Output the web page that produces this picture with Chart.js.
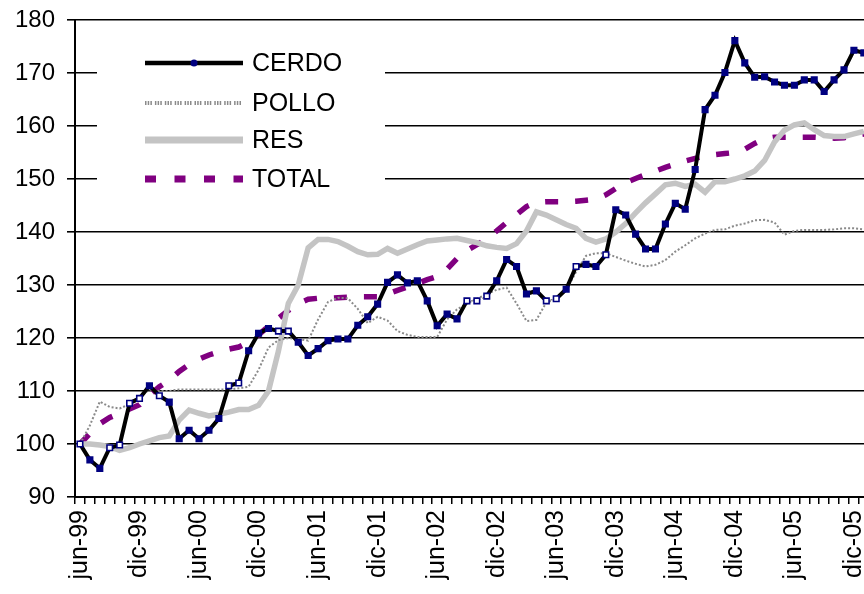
<!DOCTYPE html>
<html>
<head>
<meta charset="utf-8">
<script src="https://cdn.jsdelivr.net/npm/chart.js@4.4.1/dist/chart.umd.min.js"></script>
<style>
  html, body { margin: 0; padding: 0; background: #fff; overflow: hidden; }
  #wrap { width: 900px; height: 594px; }
</style>
</head>
<body>
<div id="wrap"><canvas id="myChart"></canvas></div>
<script>
// indices 1999..2006, monthly from jun-99
const monthNames = ['ene', 'feb', 'mar', 'abr', 'may', 'jun', 'jul', 'ago', 'sep', 'oct', 'nov', 'dic'];
const firstMonth = 5;   // jun
const firstYear = 1999;

const cerdo = [100.0, 97.0, 95.4, 99.3, 99.8, 107.7, 108.6, 111.0, 109.1, 107.9,
    101.0, 102.6, 101.0, 102.6, 104.8, 111.0, 111.5, 117.6, 120.9, 121.8,
    121.3, 121.3, 119.2, 116.7, 118.0, 119.5, 119.8, 119.8, 122.4, 124.0,
    126.4, 130.5, 131.9, 130.4, 130.8, 127.0, 122.3, 124.5, 123.6, 127.0,
    127.0, 127.9, 130.8, 134.8, 133.5, 128.3, 128.9, 127.0, 127.4, 129.2,
    133.5, 133.9, 133.5, 135.7, 144.2, 143.2, 139.6, 136.8, 136.8, 141.5,
    145.4, 144.3, 151.8, 163.1, 165.8, 170.1, 176.1, 171.9, 169.2, 169.3,
    168.3, 167.7, 167.7, 168.7, 168.7, 166.5, 168.7, 170.6, 174.3, 173.8];

const pollo = [100, 103.5, 108, 107, 106.7, 107.5, 108.8, 110.3, 110, 110,
    110.3, 110.3, 110.3, 110.3, 110.3, 110.3, 110.5, 110.8, 114, 118.2,
    119.6, 120, 119.8, 119.5, 123.5, 126.8, 127.6, 127.5, 125.5, 122.8,
    124, 123.3, 121.3, 120.6, 120.2, 120.2, 120.2, 123.5, 125.4, 126.5,
    127.4, 128.3, 129.1, 129.5, 126.5, 123.2, 123.4, 126.7, 127.3, 129,
    132.5, 135.5, 136, 136, 135.3, 134.6, 134, 133.5, 133.8, 134.7,
    136.3, 137.5, 138.8, 139.7, 140.4, 140.5, 141.2, 141.6, 142.2, 142.3,
    141.8, 139.5, 140.2, 140.4, 140.4, 140.4, 140.5, 140.7, 140.7, 140.5];

const res = [100, 100, 99.8, 99.5, 98.8, 99.3, 100, 100.6, 101.2, 101.5,
    104.5, 106.4, 105.8, 105.3, 105.6, 106, 106.5, 106.5, 107.3, 110,
    117.5, 126.5, 130, 137, 138.6, 138.6, 138.2, 137.3, 136.3, 135.7,
    135.8, 136.9, 136, 136.8, 137.6, 138.3, 138.5, 138.7, 138.8, 138.4,
    138, 137.4, 137.1, 136.9, 137.8, 140.2, 143.8, 143.2, 142.3, 141.4,
    140.7, 138.8, 138.1, 138.7, 140, 141.6, 143.6, 145.5, 147.2, 148.9,
    149.2, 148.6, 149, 147.5, 149.5, 149.5, 150, 150.6, 151.5, 153.5,
    157, 159.2, 160.2, 160.6, 159.3, 158.2, 158, 158, 158.5, 159];

const total = [100, 102, 103.8, 105, 105.8, 106.6, 107.4, 109.2, 110.8, 112,
    113.7, 115, 116, 116.8, 117.4, 117.9, 118.3, 119.2, 120.6, 122.2,
    123.7, 125.2, 126.5, 127.3, 127.5, 127.5, 127.6, 127.7, 127.8, 127.8,
    127.8, 128.3, 129, 129.6, 130.3, 131, 131.6, 133, 135, 136.5,
    137.6, 138.7, 140.2, 141.8, 143.3, 144.8, 145.6, 145.7, 145.7, 145.7,
    145.8, 146, 146.2, 147, 148.2, 149.3, 150.1, 150.8, 151.5, 152.2,
    152.8, 153.4, 153.9, 154.3, 154.6, 154.8, 155, 155.6, 156.7, 157.6,
    157.9, 157.9, 157.9, 157.9, 157.9, 157.8, 157.7, 157.8, 158.2, 158.5];

const yTicks = [90, 100, 110, 120, 130, 140, 150, 160, 170, 180];

// hollow markers / faint segments on the CERDO line (as in the scanned original)
const hollowPoints = [0, 3, 4, 5, 6, 8, 15, 16, 20, 21, 39, 40, 41, 47, 48, 50, 53];
const faintSegments = [39, 40, 47];

function monthLabels(n) {
    let out = [];
    for (let k = 0; k < n; k++) {
        const m = (firstMonth + k) % 12;
        const y = firstYear + Math.floor((firstMonth + k) / 12);
        out.push(monthNames[m] + '-' + String(y).slice(2));
    }
    return out;
}

const FONT = "'Liberation Sans', Arial, sans-serif";

// legend inside the plot, on a white box that hides the gridlines
const boxLegend = {
    id: 'boxLegend',
    beforeDatasetsDraw(chart) {
        const c = chart.ctx;
        const a = chart.chartArea;
        const sets = chart.data.datasets;
        c.save();
        c.fillStyle = '#fff';
        c.fillRect(a.left + 22, a.top + 12, 288, 186);
        const x0 = a.left + 70, x1 = a.left + 168;
        const rows = [a.top + 43, a.top + 83, a.top + 120, a.top + 159];
        sets.forEach((ds, k) => {
            const y = rows[k];
            c.beginPath();
            c.strokeStyle = ds.borderColor;
            c.lineWidth = ds.legendWidth;
            c.setLineDash(ds.legendDash || []);
            c.moveTo(x0, y);
            c.lineTo(x1, y);
            c.stroke();
            c.setLineDash([]);
            if (k === 0) {
                c.fillStyle = '#000080';
                c.beginPath();
                c.arc((x0 + x1) / 2, y, 3.5, 0, Math.PI * 2);
                c.fill();
            }
            c.fillStyle = '#000';
            c.font = '25px ' + FONT;
            c.textBaseline = 'middle';
            c.fillText(ds.label, x1 + 9, y + 1);
        });
        c.restore();
    }
};

const ctx = document.getElementById('myChart');

new Chart(ctx, {
    type: 'line',
    data: {
        labels: monthLabels(cerdo.length),
        datasets: [{
            label: 'CERDO',
            data: cerdo,
            borderColor: '#000',
            borderWidth: 4,
            legendWidth: 4.5,
            pointStyle: 'rect',
            pointRadius: 3.9,
            pointBorderWidth: 1.6,
            pointBorderColor: '#000080',
            pointBackgroundColor: c => hollowPoints.includes(c.dataIndex) ? '#fff' : '#000080',
            segment: {
                borderColor: c => faintSegments.includes(c.p0DataIndex) ? '#555' : undefined,
                borderWidth: c => faintSegments.includes(c.p0DataIndex) ? 1 : undefined,
                borderDash: c => faintSegments.includes(c.p0DataIndex) ? [2, 2] : undefined
            }
        }, {
            label: 'POLLO',
            data: pollo,
            borderColor: '#8a8a8a',
            borderWidth: 2,
            borderDash: [2, 2],
            legendWidth: 4,
            legendDash: [1.5, 1.2, 1.5, 1.2, 1.5, 3],
            pointRadius: 0
        }, {
            label: 'RES',
            data: res,
            borderColor: '#c4c4c4',
            borderWidth: 5.5,
            legendWidth: 7,
            pointRadius: 0
        }, {
            label: 'TOTAL',
            data: total,
            borderColor: '#800080',
            borderWidth: 5.5,
            borderDash: [13, 17],
            legendWidth: 7,
            legendDash: [11, 18.5],
            pointRadius: 0
        }]
    },
    options: {
        responsive: true,
        maintainAspectRatio: false,
        animation: false,
        layout: { padding: { left: 0, top: 20, right: 26, bottom: 0 } },
        plugins: {
            legend: { display: false },
            tooltip: { enabled: false }
        },
        scales: {
            x: {
                offset: true,
                grid: {
                    offset: true,
                    drawOnChartArea: false,
                    color: '#000',
                    lineWidth: 1.5,
                    tickLength: 7
                },
                border: { display: true, color: '#000', width: 2 },
                ticks: {
                    autoSkip: false,
                    minRotation: 90,
                    maxRotation: 90,
                    padding: 6,
                    color: '#000',
                    font: { family: FONT, size: 25 },
                    callback: function (value, index) {
                        return index % 6 === 0 ? this.getLabelForValue(value) : '';
                    }
                },
                afterFit: scale => { scale.height = 97; }
            },
            y: {
                min: yTicks[0],
                max: yTicks[yTicks.length - 1],
                afterBuildTicks: scale => { scale.ticks = yTicks.map(v => ({ value: v })); },
                grid: {
                    color: '#000',
                    lineWidth: 1.6,
                    tickLength: 8
                },
                border: { display: true, color: '#000', width: 2 },
                ticks: {
                    padding: 12,
                    color: '#000',
                    font: { family: FONT, size: 24 }
                },
                afterFit: scale => {
                    scale.width = 75;
                    scale.paddingTop = 0;
                    scale.paddingBottom = 0;
                }
            }
        }
    },
    plugins: [boxLegend]
});
</script>
</body>
</html>
